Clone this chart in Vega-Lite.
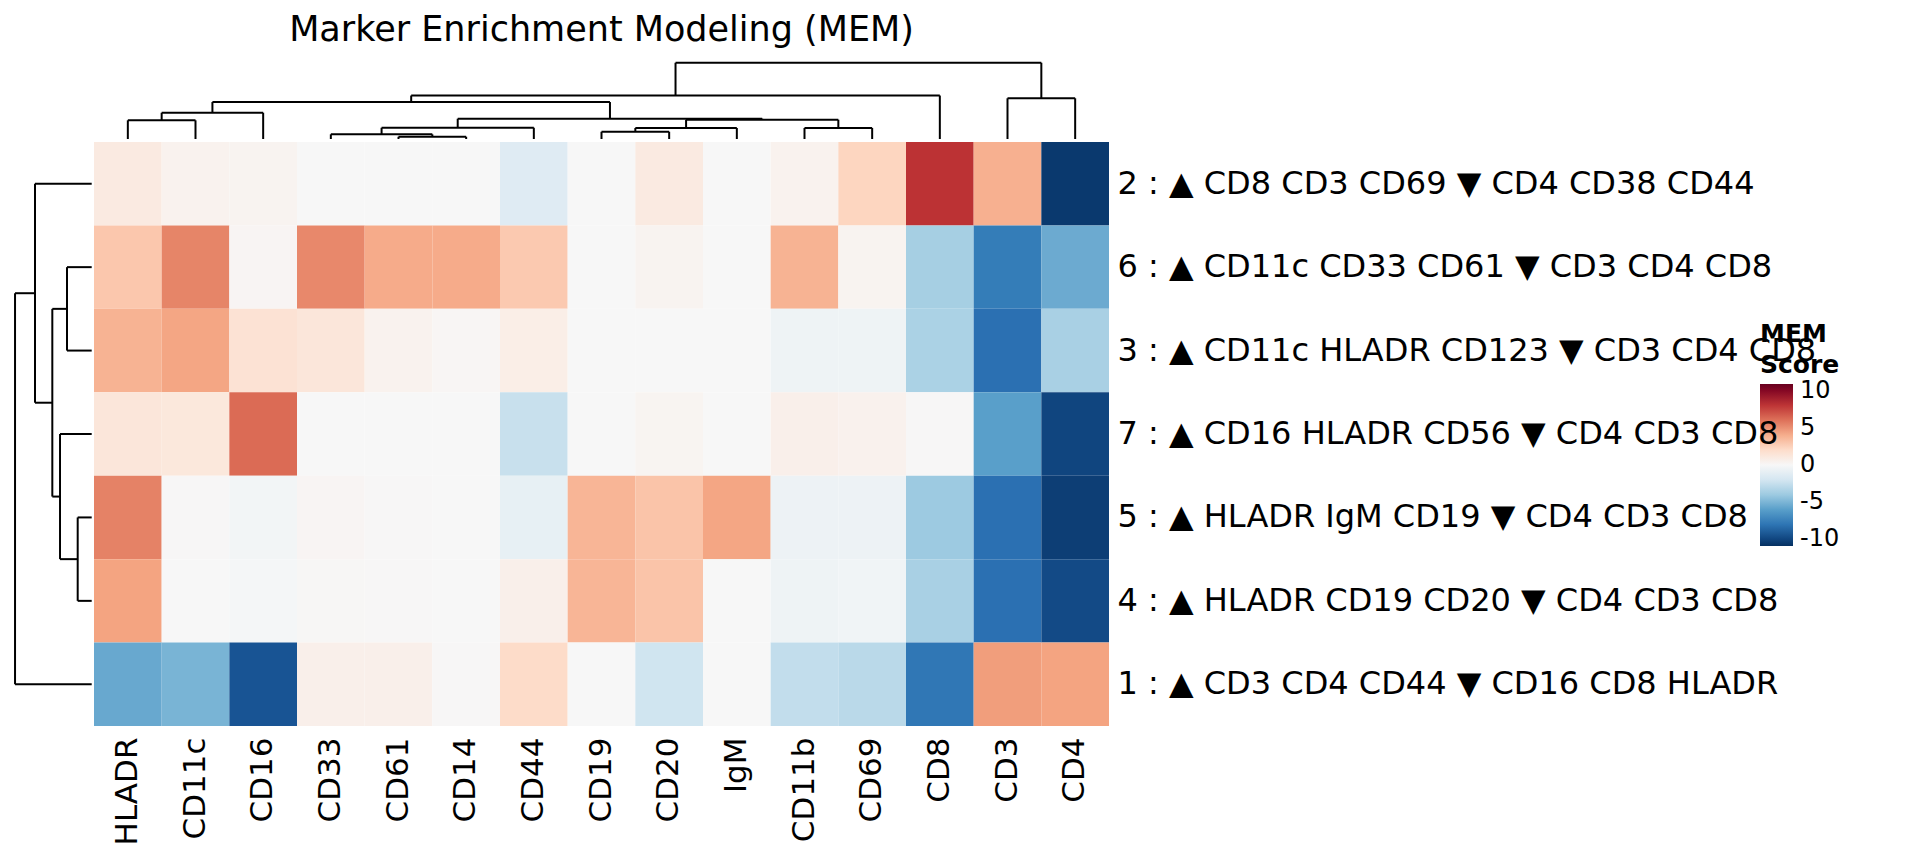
{
  "$schema": "https://vega.github.io/schema/vega-lite/v6.json",
  "width": 1015,
  "height": 584,
  "autosize": {"type": "none"},
  "padding": {"left": 94, "top": 142, "right": 811, "bottom": 139},
  "background": "white",
  "config": {
    "font": "DejaVu Sans",
    "view": {"stroke": null},
    "axis": {"grid": false, "ticks": false, "domain": false, "labelColor": "black", "labelFont": "DejaVu Sans"},
    "legend": {"labelFont": "DejaVu Sans", "titleFont": "DejaVu Sans"}
  },
  "title": {
    "text": "Marker Enrichment Modeling (MEM)",
    "fontSize": 35,
    "fontWeight": "normal",
    "font": "DejaVu Sans",
    "color": "black",
    "anchor": "middle",
    "frame": "group",
    "offset": 14
  },
  "datasets": {
    "clusters": [
      {"cluster": "2", "label": "2 : ▲ CD8 CD3 CD69 ▼ CD4 CD38 CD44"},
      {"cluster": "6", "label": "6 : ▲ CD11c CD33 CD61 ▼ CD3 CD4 CD8"},
      {"cluster": "3", "label": "3 : ▲ CD11c HLADR CD123 ▼ CD3 CD4 CD8"},
      {"cluster": "7", "label": "7 : ▲ CD16 HLADR CD56 ▼ CD4 CD3 CD8"},
      {"cluster": "5", "label": "5 : ▲ HLADR IgM CD19 ▼ CD4 CD3 CD8"},
      {"cluster": "4", "label": "4 : ▲ HLADR CD19 CD20 ▼ CD4 CD3 CD8"},
      {"cluster": "1", "label": "1 : ▲ CD3 CD4 CD44 ▼ CD16 CD8 HLADR"}
    ]
  },
  "layer": [
    {
      "data": {"values": [
        {"cluster": "2", "marker": "HLADR", "value": 1.0},
        {"cluster": "2", "marker": "CD11c", "value": 0.4},
        {"cluster": "2", "marker": "CD16", "value": 0.3},
        {"cluster": "2", "marker": "CD33", "value": 0.0},
        {"cluster": "2", "marker": "CD61", "value": 0.0},
        {"cluster": "2", "marker": "CD14", "value": 0.0},
        {"cluster": "2", "marker": "CD44", "value": -1.4},
        {"cluster": "2", "marker": "CD19", "value": 0.0},
        {"cluster": "2", "marker": "CD20", "value": 1.0},
        {"cluster": "2", "marker": "IgM", "value": 0.0},
        {"cluster": "2", "marker": "CD11b", "value": 0.4},
        {"cluster": "2", "marker": "CD69", "value": 2.4},
        {"cluster": "2", "marker": "CD8", "value": 8.1},
        {"cluster": "2", "marker": "CD3", "value": 3.9},
        {"cluster": "2", "marker": "CD4", "value": -10.5},
        {"cluster": "6", "marker": "HLADR", "value": 3.0},
        {"cluster": "6", "marker": "CD11c", "value": 5.4},
        {"cluster": "6", "marker": "CD16", "value": 0.2},
        {"cluster": "6", "marker": "CD33", "value": 5.3},
        {"cluster": "6", "marker": "CD61", "value": 4.1},
        {"cluster": "6", "marker": "CD14", "value": 4.1},
        {"cluster": "6", "marker": "CD44", "value": 2.9},
        {"cluster": "6", "marker": "CD19", "value": 0.0},
        {"cluster": "6", "marker": "CD20", "value": 0.3},
        {"cluster": "6", "marker": "IgM", "value": 0.0},
        {"cluster": "6", "marker": "CD11b", "value": 3.8},
        {"cluster": "6", "marker": "CD69", "value": 0.3},
        {"cluster": "6", "marker": "CD8", "value": -3.7},
        {"cluster": "6", "marker": "CD3", "value": -7.6},
        {"cluster": "6", "marker": "CD4", "value": -5.5},
        {"cluster": "3", "marker": "HLADR", "value": 3.8},
        {"cluster": "3", "marker": "CD11c", "value": 4.3},
        {"cluster": "3", "marker": "CD16", "value": 1.6},
        {"cluster": "3", "marker": "CD33", "value": 1.3},
        {"cluster": "3", "marker": "CD61", "value": 0.4},
        {"cluster": "3", "marker": "CD14", "value": 0.15},
        {"cluster": "3", "marker": "CD44", "value": 0.7},
        {"cluster": "3", "marker": "CD19", "value": 0.0},
        {"cluster": "3", "marker": "CD20", "value": 0.0},
        {"cluster": "3", "marker": "IgM", "value": 0.0},
        {"cluster": "3", "marker": "CD11b", "value": -0.5},
        {"cluster": "3", "marker": "CD69", "value": -0.5},
        {"cluster": "3", "marker": "CD8", "value": -3.5},
        {"cluster": "3", "marker": "CD3", "value": -8.2},
        {"cluster": "3", "marker": "CD4", "value": -3.6},
        {"cluster": "7", "marker": "HLADR", "value": 1.3},
        {"cluster": "7", "marker": "CD11c", "value": 1.2},
        {"cluster": "7", "marker": "CD16", "value": 6.2},
        {"cluster": "7", "marker": "CD33", "value": 0.0},
        {"cluster": "7", "marker": "CD61", "value": 0.0},
        {"cluster": "7", "marker": "CD14", "value": 0.0},
        {"cluster": "7", "marker": "CD44", "value": -2.5},
        {"cluster": "7", "marker": "CD19", "value": 0.0},
        {"cluster": "7", "marker": "CD20", "value": 0.25},
        {"cluster": "7", "marker": "IgM", "value": 0.0},
        {"cluster": "7", "marker": "CD11b", "value": 0.6},
        {"cluster": "7", "marker": "CD69", "value": 0.45},
        {"cluster": "7", "marker": "CD8", "value": 0.05},
        {"cluster": "7", "marker": "CD3", "value": -6.0},
        {"cluster": "7", "marker": "CD4", "value": -10.0},
        {"cluster": "5", "marker": "HLADR", "value": 5.5},
        {"cluster": "5", "marker": "CD11c", "value": 0.05},
        {"cluster": "5", "marker": "CD16", "value": -0.3},
        {"cluster": "5", "marker": "CD33", "value": 0.2},
        {"cluster": "5", "marker": "CD61", "value": 0.05},
        {"cluster": "5", "marker": "CD14", "value": 0.0},
        {"cluster": "5", "marker": "CD44", "value": -0.9},
        {"cluster": "5", "marker": "CD19", "value": 3.7},
        {"cluster": "5", "marker": "CD20", "value": 3.1},
        {"cluster": "5", "marker": "IgM", "value": 4.3},
        {"cluster": "5", "marker": "CD11b", "value": -0.55},
        {"cluster": "5", "marker": "CD69", "value": -0.55},
        {"cluster": "5", "marker": "CD8", "value": -4.0},
        {"cluster": "5", "marker": "CD3", "value": -8.2},
        {"cluster": "5", "marker": "CD4", "value": -10.3},
        {"cluster": "4", "marker": "HLADR", "value": 4.4},
        {"cluster": "4", "marker": "CD11c", "value": 0.0},
        {"cluster": "4", "marker": "CD16", "value": -0.15},
        {"cluster": "4", "marker": "CD33", "value": 0.1},
        {"cluster": "4", "marker": "CD61", "value": 0.05},
        {"cluster": "4", "marker": "CD14", "value": 0.0},
        {"cluster": "4", "marker": "CD44", "value": 0.6},
        {"cluster": "4", "marker": "CD19", "value": 3.7},
        {"cluster": "4", "marker": "CD20", "value": 3.1},
        {"cluster": "4", "marker": "IgM", "value": 0.0},
        {"cluster": "4", "marker": "CD11b", "value": -0.5},
        {"cluster": "4", "marker": "CD69", "value": -0.4},
        {"cluster": "4", "marker": "CD8", "value": -3.6},
        {"cluster": "4", "marker": "CD3", "value": -8.2},
        {"cluster": "4", "marker": "CD4", "value": -9.8},
        {"cluster": "1", "marker": "HLADR", "value": -5.6},
        {"cluster": "1", "marker": "CD11c", "value": -5.1},
        {"cluster": "1", "marker": "CD16", "value": -9.4},
        {"cluster": "1", "marker": "CD33", "value": 0.6},
        {"cluster": "1", "marker": "CD61", "value": 0.6},
        {"cluster": "1", "marker": "CD14", "value": 0.05},
        {"cluster": "1", "marker": "CD44", "value": 2.1},
        {"cluster": "1", "marker": "CD19", "value": 0.0},
        {"cluster": "1", "marker": "CD20", "value": -2.2},
        {"cluster": "1", "marker": "IgM", "value": 0.0},
        {"cluster": "1", "marker": "CD11b", "value": -2.7},
        {"cluster": "1", "marker": "CD69", "value": -3.0},
        {"cluster": "1", "marker": "CD8", "value": -7.9},
        {"cluster": "1", "marker": "CD3", "value": 4.6},
        {"cluster": "1", "marker": "CD4", "value": 4.4}
      ]},
      "transform": [
        {"lookup": "cluster", "from": {"data": {"name": "clusters"}, "key": "cluster", "fields": ["label"]}}
      ],
      "mark": {"type": "rect", "strokeWidth": 0},
      "encoding": {
        "x": {
          "field": "marker", "type": "nominal",
          "sort": ["HLADR", "CD11c", "CD16", "CD33", "CD61", "CD14", "CD44", "CD19", "CD20", "IgM", "CD11b", "CD69", "CD8", "CD3", "CD4"],
          "scale": {"paddingInner": 0, "paddingOuter": 0},
          "axis": {"orient": "bottom", "title": null, "labelAngle": 270, "labelFontSize": 31, "labelPadding": 11, "labelLimit": 1000}
        },
        "y": {
          "field": "label", "type": "nominal",
          "sort": [
            "2 : ▲ CD8 CD3 CD69 ▼ CD4 CD38 CD44",
            "6 : ▲ CD11c CD33 CD61 ▼ CD3 CD4 CD8",
            "3 : ▲ CD11c HLADR CD123 ▼ CD3 CD4 CD8",
            "7 : ▲ CD16 HLADR CD56 ▼ CD4 CD3 CD8",
            "5 : ▲ HLADR IgM CD19 ▼ CD4 CD3 CD8",
            "4 : ▲ HLADR CD19 CD20 ▼ CD4 CD3 CD8",
            "1 : ▲ CD3 CD4 CD44 ▼ CD16 CD8 HLADR"
          ],
          "scale": {"paddingInner": 0, "paddingOuter": 0},
          "axis": {"orient": "right", "title": null, "labelFontSize": 32, "labelPadding": 8, "labelLimit": 2000}
        },
        "color": {
          "field": "value", "type": "quantitative",
          "scale": {
            "domain": [-10.9, -8.72, -6.54, -4.36, -2.18, 0, 2.18, 4.36, 6.54, 8.72, 10.9],
            "range": ["#053061", "#2166ac", "#4393c3", "#92c5de", "#d1e5f0", "#f7f7f7", "#fddbc7", "#f4a582", "#d6604d", "#b2182b", "#67001f"],
            "interpolate": "lab",
            "nice": false
          },
          "legend": {
            "orient": "none", "legendX": 1666, "legendY": 180,
            "title": ["MEM", "Score"], "titleFontSize": 25, "titleFontWeight": "bold", "titleLineHeight": 31, "titlePadding": 6, "titleColor": "black",
            "gradientLength": 162, "gradientThickness": 33, "gradientStrokeWidth": 0,
            "labelFontSize": 24, "labelOffset": 7, "labelColor": "black",
            "values": [-10, -5, 0, 5, 10], "direction": "vertical",
            "labelExpr": "datum.value < 0 ? '-' + format(-datum.value, 'd') : format(datum.value, 'd')"
          }
        }
      }
    },
    {
      "data": {"values": [
        {"x": 0.5, "x2": 1.5, "y": 7.260, "y2": 7.260},
        {"x": 0.5, "x2": 0.5, "y": 7.036, "y2": 7.260},
        {"x": 1.5, "x2": 1.5, "y": 7.036, "y2": 7.260},
        {"x": 1.0, "x2": 2.5, "y": 7.351, "y2": 7.351},
        {"x": 1.0, "x2": 1.0, "y": 7.260, "y2": 7.351},
        {"x": 2.5, "x2": 2.5, "y": 7.036, "y2": 7.351},
        {"x": 4.5, "x2": 5.5, "y": 7.063, "y2": 7.063},
        {"x": 4.5, "x2": 4.5, "y": 7.036, "y2": 7.063},
        {"x": 5.5, "x2": 5.5, "y": 7.036, "y2": 7.063},
        {"x": 3.5, "x2": 5.0, "y": 7.092, "y2": 7.092},
        {"x": 3.5, "x2": 3.5, "y": 7.036, "y2": 7.092},
        {"x": 5.0, "x2": 5.0, "y": 7.063, "y2": 7.092},
        {"x": 4.25, "x2": 6.5, "y": 7.171, "y2": 7.171},
        {"x": 4.25, "x2": 4.25, "y": 7.092, "y2": 7.171},
        {"x": 6.5, "x2": 6.5, "y": 7.036, "y2": 7.171},
        {"x": 7.5, "x2": 8.5, "y": 7.123, "y2": 7.123},
        {"x": 7.5, "x2": 7.5, "y": 7.036, "y2": 7.123},
        {"x": 8.5, "x2": 8.5, "y": 7.036, "y2": 7.123},
        {"x": 8.0, "x2": 9.5, "y": 7.168, "y2": 7.168},
        {"x": 8.0, "x2": 8.0, "y": 7.123, "y2": 7.168},
        {"x": 9.5, "x2": 9.5, "y": 7.036, "y2": 7.168},
        {"x": 10.5, "x2": 11.5, "y": 7.168, "y2": 7.168},
        {"x": 10.5, "x2": 10.5, "y": 7.036, "y2": 7.168},
        {"x": 11.5, "x2": 11.5, "y": 7.036, "y2": 7.168},
        {"x": 8.75, "x2": 11.0, "y": 7.267, "y2": 7.267},
        {"x": 8.75, "x2": 8.75, "y": 7.168, "y2": 7.267},
        {"x": 11.0, "x2": 11.0, "y": 7.168, "y2": 7.267},
        {"x": 5.375, "x2": 9.875, "y": 7.279, "y2": 7.279},
        {"x": 5.375, "x2": 5.375, "y": 7.171, "y2": 7.279},
        {"x": 9.875, "x2": 9.875, "y": 7.267, "y2": 7.279},
        {"x": 1.75, "x2": 7.625, "y": 7.479, "y2": 7.479},
        {"x": 1.75, "x2": 1.75, "y": 7.351, "y2": 7.479},
        {"x": 7.625, "x2": 7.625, "y": 7.279, "y2": 7.479},
        {"x": 4.6875, "x2": 12.5, "y": 7.557, "y2": 7.557},
        {"x": 4.6875, "x2": 4.6875, "y": 7.479, "y2": 7.557},
        {"x": 12.5, "x2": 12.5, "y": 7.036, "y2": 7.557},
        {"x": 13.5, "x2": 14.5, "y": 7.524, "y2": 7.524},
        {"x": 13.5, "x2": 13.5, "y": 7.036, "y2": 7.524},
        {"x": 14.5, "x2": 14.5, "y": 7.036, "y2": 7.524},
        {"x": 8.594, "x2": 14.0, "y": 7.950, "y2": 7.950},
        {"x": 8.594, "x2": 8.594, "y": 7.557, "y2": 7.950},
        {"x": 14.0, "x2": 14.0, "y": 7.524, "y2": 7.950},
        {"x": -0.399, "x2": -0.399, "y": 4.5, "y2": 5.5},
        {"x": -0.034, "x2": -0.399, "y": 5.5, "y2": 5.5},
        {"x": -0.034, "x2": -0.399, "y": 4.5, "y2": 4.5},
        {"x": -0.241, "x2": -0.241, "y": 1.5, "y2": 2.5},
        {"x": -0.034, "x2": -0.241, "y": 2.5, "y2": 2.5},
        {"x": -0.034, "x2": -0.241, "y": 1.5, "y2": 1.5},
        {"x": -0.502, "x2": -0.502, "y": 2.0, "y2": 3.5},
        {"x": -0.034, "x2": -0.502, "y": 3.5, "y2": 3.5},
        {"x": -0.241, "x2": -0.502, "y": 2.0, "y2": 2.0},
        {"x": -0.616, "x2": -0.616, "y": 2.75, "y2": 5.0},
        {"x": -0.399, "x2": -0.616, "y": 5.0, "y2": 5.0},
        {"x": -0.502, "x2": -0.616, "y": 2.75, "y2": 2.75},
        {"x": -0.872, "x2": -0.872, "y": 3.875, "y2": 6.5},
        {"x": -0.034, "x2": -0.872, "y": 6.5, "y2": 6.5},
        {"x": -0.616, "x2": -0.872, "y": 3.875, "y2": 3.875},
        {"x": -1.167, "x2": -1.167, "y": 0.5, "y2": 5.1875},
        {"x": -0.872, "x2": -1.167, "y": 5.1875, "y2": 5.1875},
        {"x": -0.034, "x2": -1.167, "y": 0.5, "y2": 0.5}
      ]},
      "mark": {"type": "rule", "color": "black", "strokeWidth": 2, "clip": false},
      "encoding": {
        "x": {"field": "x", "type": "quantitative", "scale": {"domain": [0, 15], "nice": false, "zero": false}, "axis": null},
        "x2": {"field": "x2"},
        "y": {"field": "y", "type": "quantitative", "scale": {"domain": [0, 7], "nice": false, "zero": false}, "axis": null},
        "y2": {"field": "y2"}
      }
    }
  ],
  "resolve": {"scale": {"x": "independent", "y": "independent"}}
}
